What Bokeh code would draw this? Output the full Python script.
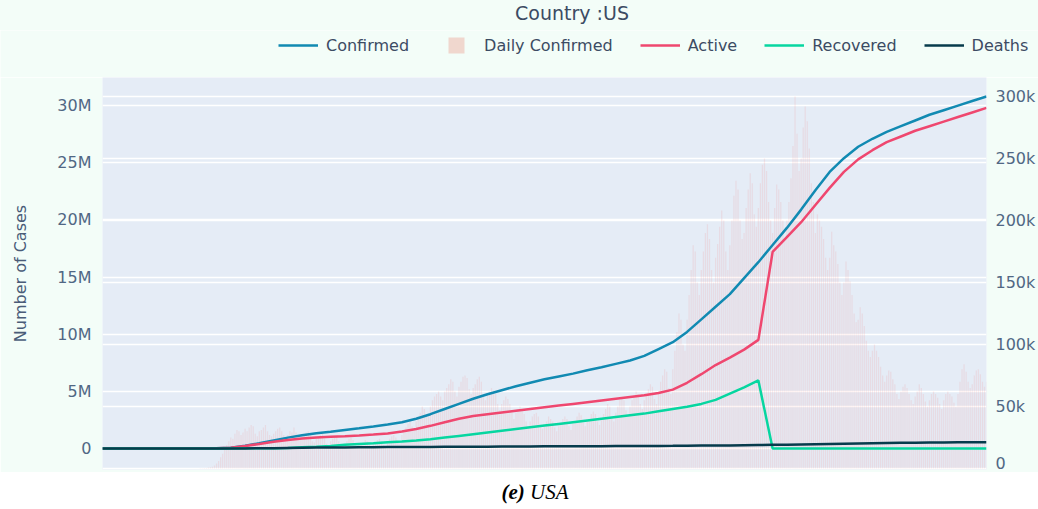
import pandas as pd
from bokeh.plotting import figure
from bokeh.models import (Range1d, LinearAxis, FixedTicker, Grid, Legend,
                          LegendItem, Div)
from bokeh.layouts import column
from bokeh.embed import file_html
from bokeh.resources import INLINE

# ---------------- data ----------------
week_dates = pd.date_range("2020-01-22", periods=63, freq="7D")
day_dates = pd.date_range("2020-01-22", "2021-03-31", freq="D")

# cumulative series, millions (weekly samples)
confirmed_m = [0, 0, 0, 0, 0, 0, 0, 0,
               0.01, 0.07, 0.25, 0.45, 0.7, 0.95, 1.15, 1.33, 1.47, 1.62, 1.77, 1.93,
               2.1, 2.3, 2.6, 3.0, 3.45, 3.9, 4.35, 4.75, 5.1, 5.45, 5.75, 6.05,
               6.3, 6.55, 6.85, 7.1, 7.4, 7.7, 8.1, 8.7, 9.3, 10.2, 11.3, 12.4,
               13.5, 14.9, 16.3, 17.8, 19.3, 20.9, 22.6, 24.2, 25.4, 26.4, 27.1,
               27.7, 28.2, 28.7, 29.2, 29.6, 30.0, 30.4, 30.8]
active_m = [0, 0, 0, 0, 0, 0, 0, 0,
            0.01, 0.06, 0.22, 0.4, 0.58, 0.75, 0.88, 0.97, 1.03, 1.08, 1.14, 1.22,
            1.32, 1.48, 1.7, 1.98, 2.3, 2.6, 2.85, 3.0, 3.15, 3.3, 3.45, 3.6,
            3.75, 3.9, 4.05, 4.2, 4.35, 4.5, 4.65, 4.85, 5.15, 5.75, 6.5, 7.3,
            7.95, 8.65, 9.5, 17.2, 18.5, 19.8, 21.3, 22.8, 24.2, 25.3, 26.1,
            26.8, 27.3, 27.8, 28.2, 28.6, 29.0, 29.4, 29.8]
recovered_m = [0, 0, 0, 0, 0, 0, 0, 0,
               0, 0, 0.01, 0.02, 0.03, 0.05, 0.1, 0.15, 0.22, 0.32, 0.4, 0.45,
               0.55, 0.62, 0.7, 0.8, 0.95, 1.1, 1.25, 1.4, 1.55, 1.7, 1.85, 2.0,
               2.15, 2.3, 2.45, 2.6, 2.75, 2.9, 3.05, 3.25, 3.45, 3.65, 3.9, 4.25,
               4.8, 5.35, 5.95, 0, 0, 0, 0, 0, 0, 0, 0,
               0, 0, 0, 0, 0, 0, 0, 0]
deaths_m = [0, 0, 0, 0, 0, 0, 0, 0,
            0, 0.001, 0.005, 0.015, 0.03, 0.045, 0.06, 0.075, 0.085, 0.095, 0.105, 0.11,
            0.12, 0.125, 0.128, 0.132, 0.14, 0.145, 0.155, 0.16, 0.165, 0.172, 0.18, 0.185,
            0.19, 0.195, 0.2, 0.205, 0.21, 0.215, 0.22, 0.226, 0.23, 0.24, 0.25, 0.26,
            0.27, 0.285, 0.3, 0.315, 0.33, 0.35, 0.37, 0.39, 0.41, 0.43, 0.45,
            0.47, 0.49, 0.5, 0.515, 0.525, 0.535, 0.545, 0.55]

# daily confirmed, thousands (one row per week)
daily_confirmed_k = [
    0, 0, 0, 0, 0, 0, 0,
    0, 0, 0, 0, 0, 0, 0,
    0, 0, 0, 0, 0, 0, 0,
    0, 0, 0, 0, 0, 0, 0,
    0, 0, 0, 0, 0, 0, 0,
    0, 0, 0, 0, 0, 0, 0,
    0, 0, 0, 0, 0.1, 0.1, 0.2,
    0.3, 0.4, 0.5, 0.8, 1.0, 1.5, 2.5,
    4, 6, 9, 12, 15, 19, 22,
    25, 24, 28, 31, 30, 27, 29,
    32, 30, 33, 35, 34, 28, 26,
    30, 31, 33, 35, 30, 27, 26,
    28, 30, 32, 33, 30, 27, 24,
    27, 30, 29, 33, 29, 26, 24,
    26, 28, 29, 30, 27, 22, 21,
    24, 25, 27, 28, 24, 20, 19,
    22, 24, 25, 26, 22, 19, 18,
    20, 22, 24, 25, 23, 20, 18,
    19, 20, 21, 23, 22, 19, 17,
    20, 21, 23, 24, 22, 19, 18,
    22, 24, 26, 27, 25, 22, 20,
    27, 30, 33, 36, 40, 34, 31,
    38, 42, 45, 50, 48, 44, 42,
    50, 55, 58, 60, 62, 58, 55,
    62, 65, 68, 72, 70, 62, 58,
    66, 70, 74, 75, 73, 64, 60,
    65, 68, 72, 74, 70, 60, 55,
    60, 62, 65, 63, 60, 52, 47,
    52, 55, 58, 56, 52, 45, 40,
    45, 48, 50, 48, 44, 38, 34,
    38, 42, 44, 45, 42, 35, 32,
    35, 38, 42, 40, 38, 33, 30,
    34, 37, 40, 42, 40, 34, 31,
    36, 38, 42, 45, 43, 37, 34,
    38, 40, 44, 46, 44, 38, 35,
    40, 44, 48, 52, 50, 42, 38,
    45, 50, 55, 57, 55, 47, 43,
    50, 55, 58, 62, 60, 52, 48,
    55, 60, 64, 68, 66, 56, 52,
    62, 70, 75, 80, 78, 65, 60,
    80, 95, 110, 125, 120, 100, 95,
    120, 140, 160, 180, 175, 150, 140,
    160, 175, 190, 197, 185, 160, 150,
    170, 181, 195, 208, 200, 175, 160,
    180, 200, 220, 232, 225, 200, 185,
    190, 210, 225, 238, 230, 205, 195,
    210, 230, 245, 250, 240, 215, 200,
    190, 210, 229, 225, 215, 200, 185,
    200, 215, 234, 260, 300, 270, 240,
    250, 275, 292, 280, 258, 230, 215,
    190, 205, 200, 195, 185, 170, 160,
    170, 191, 180, 175, 165, 150, 140,
    150, 167, 160, 151, 140, 125, 118,
    120, 130, 125, 115, 103, 95, 90,
    95, 100, 95, 90, 82, 75, 70,
    75, 79, 78, 72, 68, 60, 56,
    62, 66, 68, 65, 60, 55, 52,
    58, 62, 68, 65, 60, 54, 50,
    55, 60, 62, 60, 57, 52, 48,
    55, 60, 62, 60, 58, 53, 50,
    60, 70, 80, 84, 78, 70, 65,
    68, 75, 79, 80, 76, 70, 66,
    70,
]

left_ticks = [0, 5, 10, 15, 20, 25, 30]
left_labels = ["0", "5M", "10M", "15M", "20M", "25M", "30M"]
right_ticks = [0, 50, 100, 150, 200, 250, 300]
right_labels = ["0", "50k", "100k", "150k", "200k", "250k", "300k"]

# ---------------- styling ----------------
MINT = "#F3FDF8"
PLOT_BG = "#E5ECF6"
TXT = "#506784"
FONT = "DejaVu Sans"
C_CONF, C_ACT, C_REC, C_DEA = "#118AB2", "#EF476F", "#06D6A0", "#073B4C"
C_BAR = "#F08080"
C_SWATCH = "#EB8C78"
NAN = float("nan")

# ---- title strip ----
title_div = Div(
    text='<div style="box-sizing:border-box; width:1038px; height:30px;'
         ' padding-left:106px; text-align:center; font-family:\'DejaVu Sans\';'
         ' font-size:19px; line-height:26px; color:#3C4B63;">Country :US</div>',
    width=1038, height=30, margin=0, styles={"background-color": MINT})

# ---- legend strip (own small canvas, legend only) ----
lg = figure(width=1038, height=47, x_range=Range1d(0, 1), y_range=Range1d(0, 1),
            output_backend="svg", toolbar_location=None, min_border=0)
try:
    lg.frame_align = False
except Exception:
    pass
lg.axis.visible = False
lg.grid.visible = False
lg.outline_line_color = None
lg.background_fill_color = MINT
lg.border_fill_color = MINT
d_conf = lg.line(x=[NAN], y=[NAN], line_color=C_CONF, line_width=2.5)
d_daily = lg.scatter(x=[NAN], y=[NAN], marker="square", size=16,
                     fill_color=C_SWATCH, fill_alpha=0.33, line_color=None)
d_act = lg.line(x=[NAN], y=[NAN], line_color=C_ACT, line_width=2.5)
d_rec = lg.line(x=[NAN], y=[NAN], line_color=C_REC, line_width=2.5)
d_dea = lg.line(x=[NAN], y=[NAN], line_color=C_DEA, line_width=2.5)
legend = Legend(items=[
    LegendItem(label="Confirmed", renderers=[d_conf]),
    LegendItem(label="Daily Confirmed", renderers=[d_daily]),
    LegendItem(label="Active", renderers=[d_act]),
    LegendItem(label="Recovered", renderers=[d_rec]),
    LegendItem(label="Deaths", renderers=[d_dea]),
], location=(278, 11), orientation="horizontal",
    glyph_width=40, glyph_height=42, label_height=20,
    label_standoff=8, spacing=27, padding=0, margin=0,
    label_text_font=FONT, label_text_font_size="16px",
    label_text_color="#3C4B63",
    border_line_color=None, background_fill_alpha=0)
lg.add_layout(legend)

# ---- main plot ----
p = figure(width=1038, height=395, x_axis_type="datetime",
           x_range=Range1d(day_dates[0], day_dates[-1]),
           y_range=Range1d(-1.84, 32.46),
           output_backend="svg", toolbar_location=None,
           min_border_left=102, min_border_right=51,
           min_border_top=0, min_border_bottom=3)
p.border_fill_color = MINT
p.background_fill_color = PLOT_BG
p.outline_line_color = None
p.xaxis.visible = False
p.xgrid.visible = False

p.extra_y_ranges = {"right": Range1d(-0.8, 315.3)}

ax = p.yaxis[0]
ax.ticker = FixedTicker(ticks=left_ticks)
ax.major_label_overrides = {t: l for t, l in zip(left_ticks, left_labels)}
ax.axis_label = "Number of Cases"
ax.axis_label_text_font = FONT
ax.axis_label_text_font_style = "normal"
ax.axis_label_text_font_size = "16px"
ax.axis_label_text_color = "#4A5C78"
ax.axis_label_standoff = 24

rax = LinearAxis(y_range_name="right", ticker=FixedTicker(ticks=right_ticks))
rax.major_label_overrides = {t: l for t, l in zip(right_ticks, right_labels)}
p.add_layout(rax, "right")

for a in (ax, rax):
    a.axis_line_color = None
    a.major_tick_line_color = None
    a.minor_tick_line_color = None
    a.major_label_text_font = FONT
    a.major_label_text_font_size = "16px"
    a.major_label_text_color = TXT
ax.major_label_standoff = 5
rax.major_label_standoff = 3

p.ygrid.ticker = FixedTicker(ticks=left_ticks)
p.ygrid.grid_line_color = "white"
p.ygrid.grid_line_width = 1.5
rgrid = Grid(dimension=1, ticker=FixedTicker(ticks=right_ticks),
             y_range_name="right", grid_line_color="white",
             grid_line_width=1.5)
p.add_layout(rgrid)

p.vbar(x=day_dates, top=daily_confirmed_k, width=0.6 * 86400000,
       y_range_name="right", fill_color=C_BAR, fill_alpha=0.16,
       line_color=None)
p.line(week_dates, confirmed_m, line_color=C_CONF, line_width=2.5)
p.line(week_dates, active_m, line_color=C_ACT, line_width=2.5)
p.line(week_dates, recovered_m, line_color=C_REC, line_width=2.5)
p.line(week_dates, deaths_m, line_color=C_DEA, line_width=2.5)

caption = Div(
    text='<div style="box-sizing:border-box; width:1038px; padding-left:32px;'
         ' padding-top:6px; text-align:center;'
         ' font-family:\'Liberation Serif\',serif;'
         ' font-size:21px; line-height:28px; color:#000;">'
         '<b><i>(e)</i></b> <i>USA</i></div>',
    width=1038, height=34, margin=0)

layout = column(title_div, lg, p, caption)

open("out.html", "w").write(file_html(layout, INLINE))
